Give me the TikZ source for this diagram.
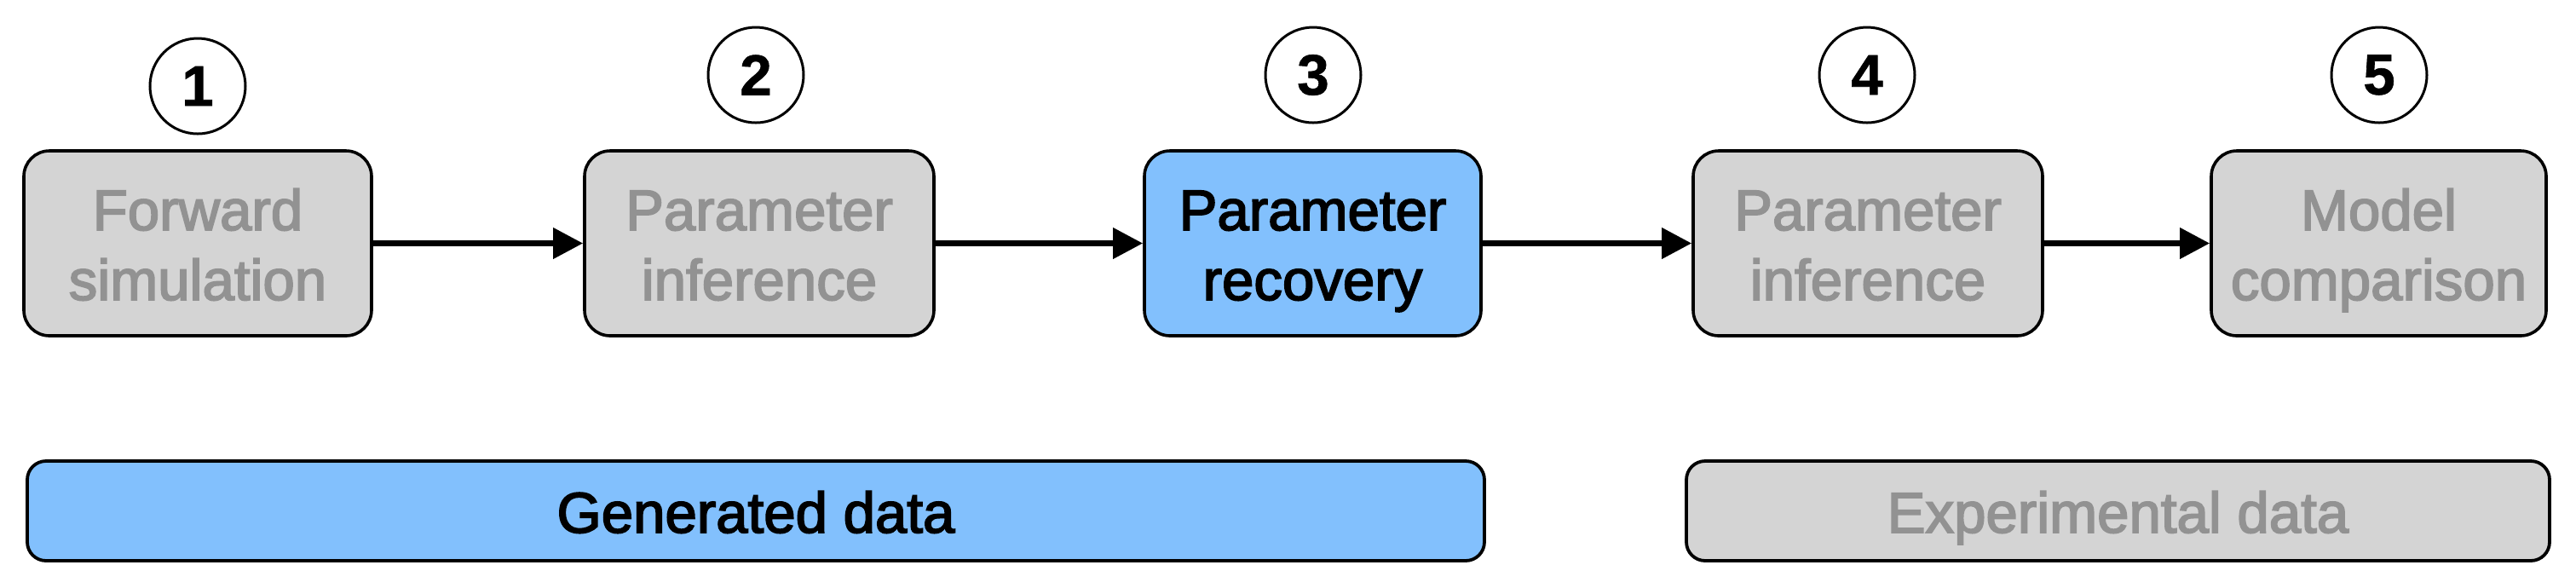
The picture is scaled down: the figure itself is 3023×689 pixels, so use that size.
\documentclass[tikz,border=0pt]{standalone}
\usepackage{fontspec}
\setmainfont{Liberation Sans}
\newfontfamily\medfont[FakeBold=2.6]{Liberation Sans}
\newfontfamily\numfont[FakeBold=1]{Liberation Sans Bold}
\usetikzlibrary{arrows.meta}
\definecolor{boxgray}{HTML}{D4D4D4}
\definecolor{txtgray}{HTML}{929292}
\definecolor{boxblue}{HTML}{82C0FD}
\newcommand{\twolines}[2]{\rule{0pt}{12.75pt}#1\\\smash{#2}}
\begin{document}
\begin{tikzpicture}[x=0.25pt,y=-0.25pt,
  stepbox/.style={draw=black,line width=0.9pt,rounded corners=7.5pt,inner sep=0pt,
    minimum height=54.25pt,align=center,font=\medfont\fontsize{16.8}{20.5}\selectfont},
  greybox/.style={stepbox,fill=boxgray,text=txtgray},
  bluebox/.style={stepbox,fill=boxblue,text=black},
  databox/.style={draw=black,line width=0.95pt,rounded corners=5.5pt,inner sep=0pt,
    minimum height=29.25pt,text height=12.75pt,text depth=0pt,
    font=\medfont\fontsize{16.8}{20.5}\selectfont},
  numcirc/.style={draw=black,line width=0.75pt,circle,minimum size=28pt,inner sep=0pt,
    font=\numfont\fontsize{16.8}{20}\selectfont},
  arr/.style={line width=1.75pt,-{Triangle[length=8.75pt,width=8.75pt]}}]
\useasboundingbox[fill=white] (0,0) rectangle (3023,689);
\node[greybox,minimum width=102pt] (b1) at (232,285.5) {\twolines{Forward}{simulation}};
\node[greybox,minimum width=102.5pt] (b2) at (891,285.5) {\twolines{Parameter}{inference}};
\node[bluebox,minimum width=98.75pt] (b3) at (1540.5,285.5) {\twolines{Parameter}{recovery}};
\node[greybox,minimum width=102.5pt] (b4) at (2192,285.5) {\twolines{Parameter}{inference}};
\node[greybox,minimum width=98.25pt] (b5) at (2791.5,285.5) {\twolines{Model}{comparison}};
\node[numcirc] (c1) at (232,101) {1};
\node[numcirc] (c2) at (887,88) {2};
\node[numcirc] (c3) at (1541,88) {3};
\node[numcirc] (c4) at (2191,88) {4};
\node[numcirc] (c5) at (2792,88) {5};
\draw[arr] (b1) -- (b2);
\draw[arr] (b2) -- (b3);
\draw[arr] (b3) -- (b4);
\draw[arr] (b4) -- (b5);
\node[databox,fill=boxblue,text=black,minimum width=427.5pt] (g) at (887,599.5) {Generated data};
\node[databox,fill=boxgray,text=txtgray,minimum width=253.25pt] (e) at (2485.5,599.5) {Experimental data};
\end{tikzpicture}
\end{document}
